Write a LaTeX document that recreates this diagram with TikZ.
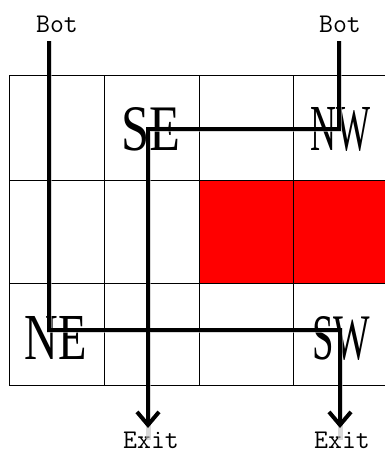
\documentclass[tikz,border=0pt]{standalone}
\usepackage{fontspec}
\usetikzlibrary{arrows.meta}
\newfontfamily\bigserif{Liberation Serif}
\newcommand{\dirtext}[2]{\resizebox{#1pt}{43pt}{\bigserif #2}}
\tikzset{
  gridline/.style={line width=1pt, black},
  pathline/.style={line width=4.5pt, black, line join=miter},
  shadowline/.style={line width=5pt, black!25, opacity=0.6},
  exitarrow/.style={-{Straight Barb[length=13pt,width=22pt,line width=4pt]}},
  dirlabel/.style={inner sep=0pt},
  endlabel/.style={inner sep=0pt, font=\ttfamily\fontsize{27}{27}\selectfont},
}
\begin{document}
\begin{tikzpicture}[x=1pt,y=-1pt]
\useasboundingbox (0,0) rectangle (385,453);
\begin{scope}
\clip (0,0) rectangle (385,453);
\fill[red] (199,180) rectangle (390,283);
\foreach \gx in {9,104,199,293}
  \draw[gridline] (\gx,75) -- (\gx,385);
\foreach \gy in {75,180,283,385}
  \draw[gridline] (9,\gy) -- (390,\gy);
\end{scope}

% labels
\node[dirlabel] (se) at (151,129) {\dirtext{59}{SE}};
\node[dirlabel] (nw) at (340,129) {\dirtext{60}{NW}};
\node[dirlabel] (ne) at (56,338) {\dirtext{62}{NE}};
\node[dirlabel] (sw) at (341,338) {\dirtext{58}{SW}};

\node[endlabel] (botl) at (57,24) {Bot};
\node[endlabel] (botr) at (340,24) {Bot};
\node[endlabel] (exitl) at (151,440) {Exit};
\node[endlabel] (exitr) at (342,440) {Exit};

% path coordinates
\coordinate (p1a) at (49,41);
\coordinate (p1b) at (49,330);
\coordinate (p1c) at (340,330);
\coordinate (p1d) at (340,428);
\coordinate (p2a) at (339,41);
\coordinate (p2b) at (339,129);
\coordinate (p2c) at (148,129);
\coordinate (p2d) at (148,428);

% shadows
\begin{scope}[shift={(2,2)}]
\draw[shadowline] (p1a) -- (p1b) -- (p1c) -- ([yshift=-12pt]p1d);
\draw[shadowline] (p2a) -- (p2b) -- (p2c) -- ([yshift=-12pt]p2d);
\end{scope}

% paths
\draw[pathline, exitarrow] (p1a) -- (p1b) -- (p1c) -- (p1d);
\draw[pathline, exitarrow] (p2a) -- (p2b) -- (p2c) -- (p2d);
\end{tikzpicture}
\end{document}
